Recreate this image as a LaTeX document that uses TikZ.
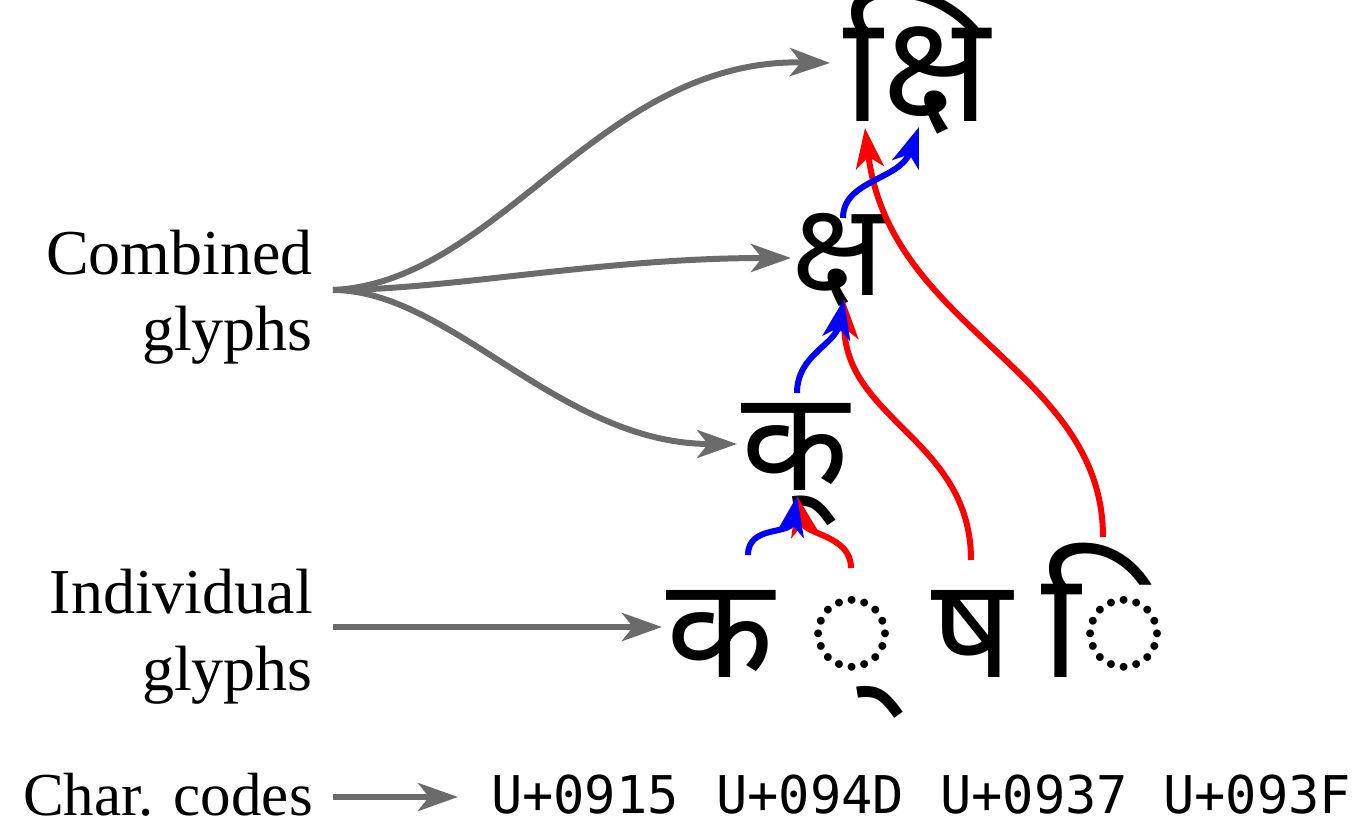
\documentclass[tikz,border=0pt]{standalone}
\usepackage{fontspec}
\setmainfont{Liberation Serif}
\newfontfamily\deva[Script=Devanagari]{Noto Sans}
\newfontfamily\codefont{DejaVu Sans Mono}
\usetikzlibrary{arrows.meta}
\definecolor{arrowgray}{RGB}{107,107,107}
\tikzset{
  sidetext/.style={font=\fontsize{64}{64}\selectfont, inner sep=0pt, anchor=base east},
  glyph/.style={font=\deva\fontsize{140}{140}\selectfont, inner sep=0pt, anchor=base},
  codetext/.style={font=\codefont\fontsize{52}{52}\selectfont, inner sep=0pt, anchor=base},
  tipshape/.style={-{Stealth[length=40pt,width=28pt,inset=11pt]}},
  grayarrow/.style={draw=arrowgray, line width=6pt, tipshape},
  redarrow/.style={draw=red, line width=6pt, tipshape},
  bluearrow/.style={draw=blue, line width=6pt, tipshape}
}
\begin{document}
\begin{tikzpicture}[x=1pt,y=-1pt]
\useasboundingbox (0,0) rectangle (1357,826);
% side labels
\node[sidetext] (comb) at (313,275) {Combined};
\node[sidetext] (cglyphs) at (313,350) {glyphs};
\node[sidetext] (indiv) at (313,613) {Individual};
\node[sidetext] (iglyphs) at (313,690) {glyphs};
\node[sidetext, font=\fontsize{61}{61}\selectfont] (chars) at (313,815) {Char. codes};
% glyphs
\node[glyph] (ka) at (720,677) {क};
\node[glyph, font=\deva\fontsize{150}{150}\selectfont] (vir) at (852,677) {◌्};
\node[glyph] (ssa) at (972,677) {ष};
\node[glyph, font=\deva\fontsize{150}{150}\selectfont] (ii) at (1105,677) {◌ि};
\node[glyph] (kv) at (795,490) {क्};
\node[glyph, font=\deva\fontsize{130}{130}\selectfont] (kss) at (838,295) {क्ष};
\node[glyph, font=\deva\fontsize{150}{150}\selectfont] (kssi) at (917,122) {क्षि};
% codes
\node[codetext] (c1) at (585,813) {U+0915};
\node[codetext] (c2) at (810,813) {U+094D};
\node[codetext] (c3) at (1034,813) {U+0937};
\node[codetext] (c4) at (1257,813) {U+093F};
% connector end points
\coordinate (gs) at (333,290);
\coordinate (t1) at (830,63);
\coordinate (t2) at (791,258);
\coordinate (t3) at (737,444);
\coordinate (is) at (333,627);
\coordinate (it) at (662,627);
\coordinate (cs) at (333,797);
\coordinate (ct) at (458,797);
\coordinate (b1s) at (748,555);
\coordinate (r1s) at (851,568);
\coordinate (kvt) at (797,496);
\coordinate (b2s) at (797,393);
\coordinate (r2s) at (971,560);
\coordinate (ksst) at (844,299);
\coordinate (b3s) at (843,218);
\coordinate (b3t) at (919,127);
\coordinate (r3s) at (1103,537);
\coordinate (r3t) at (865,128);
% gray arrows
\draw[grayarrow] (gs) .. controls (500,282) and (600,58) .. (t1);
\draw[grayarrow] (gs) .. controls (450,290) and (600,258) .. (t2);
\draw[grayarrow] (gs) .. controls (450,290) and (560,444) .. (t3);
\draw[grayarrow] (is) -- (it);
\draw[grayarrow] (cs) -- (ct);
% red arrows
\draw[redarrow] (r1s) .. controls (851,535) and (805,535) .. (kvt);
\draw[redarrow] (r2s) .. controls (971,440) and (845,420) .. (ksst);
\draw[redarrow] (r3s) .. controls (1103,370) and (890,330) .. (r3t);
% blue arrows
\draw[bluearrow] (b1s) .. controls (748,525) and (790,535) .. (kvt);
\draw[bluearrow] (b2s) .. controls (797,355) and (835,345) .. (ksst);
\draw[bluearrow] (b3s) .. controls (843,180) and (900,180) .. (b3t);
\end{tikzpicture}
\end{document}
